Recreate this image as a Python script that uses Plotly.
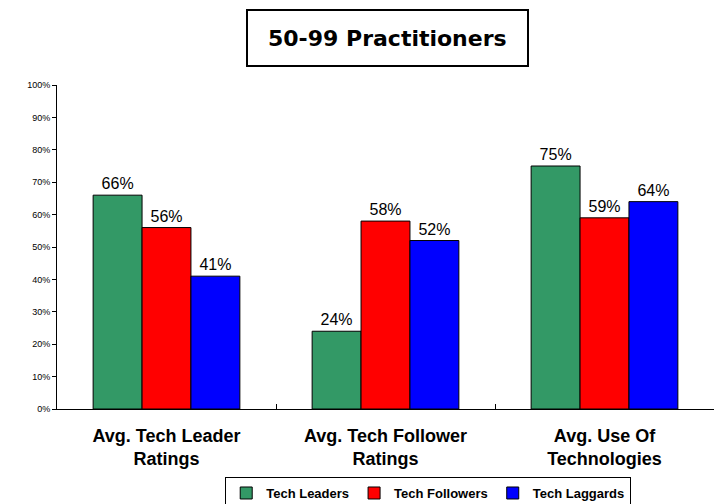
import plotly.graph_objects as go

categories = ["Avg. Tech Leader<br>Ratings", "Avg. Tech Follower<br>Ratings", "Avg. Use Of<br>Technologies"]
series_names = ["Tech Leaders", "Tech Followers", "Tech Laggards"]
tech_leaders = [0.66, 0.24, 0.75]
tech_followers = [0.56, 0.58, 0.59]
tech_laggards = [0.41, 0.52, 0.64]
colors = ["#339966", "#FF0000", "#0000FF"]
y_ticks = [i / 10 for i in range(11)]

fig = go.Figure()
for name, vals, col in zip(series_names, [tech_leaders, tech_followers, tech_laggards], colors):
    fig.add_trace(go.Bar(
        x=categories, y=vals, name=name,
        marker=dict(color=col, line=dict(color="black", width=1)),
        texttemplate="%{y:.0%}", textposition="outside",
        textfont=dict(family="Liberation Sans, Arial", size=16, color="black"),
        cliponaxis=False,
    ))

fig.update_layout(
    width=717, height=504,
    margin=dict(l=57, r=3, t=85, b=95, autoexpand=False),
    paper_bgcolor="white", plot_bgcolor="white",
    barmode="group", bargap=0.33, bargroupgap=0,
    showlegend=True,
    legend=dict(
        orientation="h", x=0.565, xanchor="center", y=-0.21, yanchor="top",
        bordercolor="black", borderwidth=1,
        font=dict(family="Liberation Sans, Arial", size=13, color="black", weight="bold"),
        itemwidth=30, tracegroupgap=0,
    ),
    font=dict(family="Liberation Sans, Arial", color="black"),
    xaxis=dict(
        automargin=False,
        showline=True, linecolor="black", linewidth=1,
        ticks="inside", ticklen=5, tickcolor="black", tickson="boundaries",
        tickfont=dict(family="Liberation Sans, Arial", size=18, color="black", weight="bold"),
        ticklabelstandoff=10,
        showgrid=False,
    ),
    yaxis=dict(
        automargin=False,
        range=[0, 1], tickvals=y_ticks, tickformat=".0%",
        showline=True, linecolor="black", linewidth=1,
        ticks="outside", ticklen=4, tickcolor="black",
        tickfont=dict(family="Liberation Sans, Arial", size=9, color="black"),
        showgrid=False, zeroline=False,
    ),
)

# Title box
fig.add_shape(type="rect", xref="paper", yref="paper",
              x0=(247 - 57) / 657, x1=(528 - 57) / 657,
              y0=(409 - 66) / 324, y1=(409 - 10) / 324,
              line=dict(color="black", width=2), fillcolor="white")
fig.add_annotation(text="<b>50-99 Practitioners</b>", xref="paper", yref="paper",
                   x=(387.5 - 57) / 657, y=(409 - 38) / 324, showarrow=False,
                   xanchor="center", yanchor="middle",
                   font=dict(family="DejaVu Sans", size=22, color="black"))

fig.write_html("out.html", config={"displayModeBar": False},
               post_script="document.body.style.margin='0';")
